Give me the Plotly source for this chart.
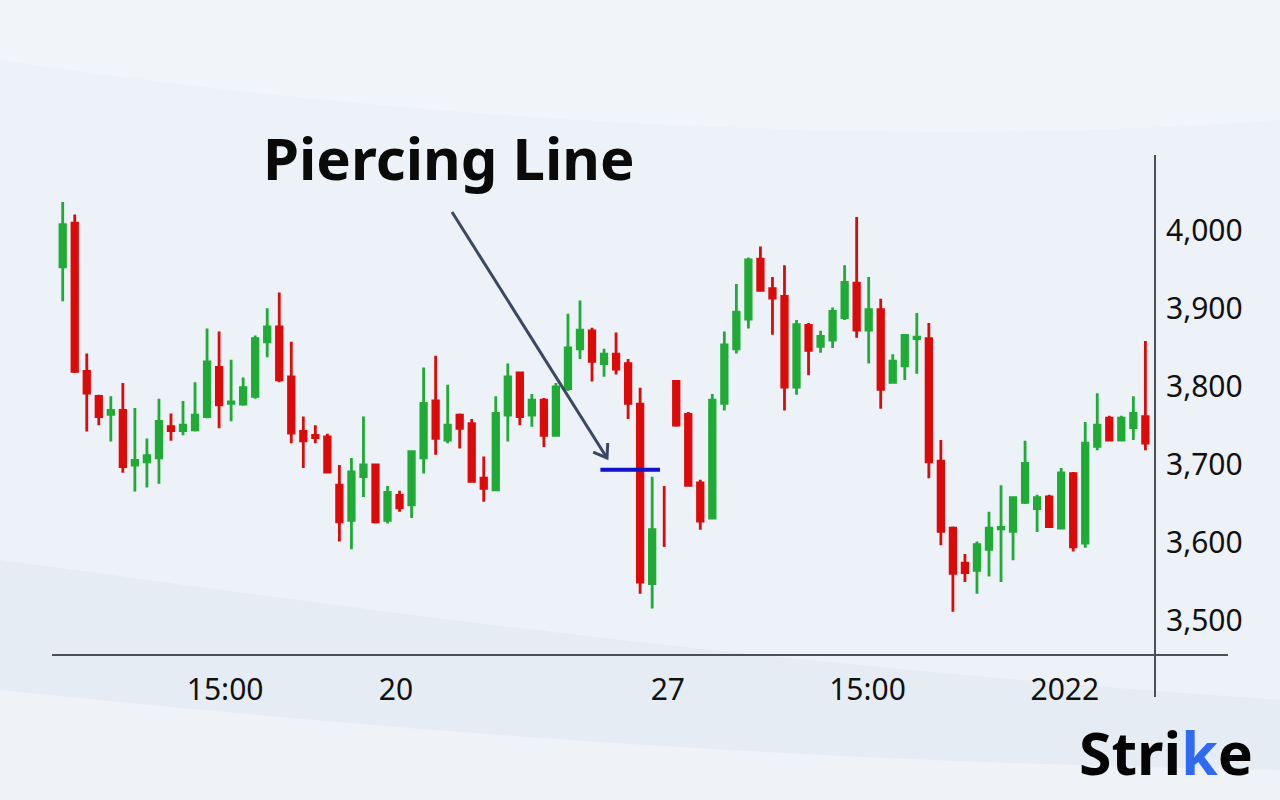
import math
import plotly.graph_objects as go

# ---------------- data ----------------
opens = [3954, 4010, 3820, 3788, 3765, 3770, 3700, 3704, 3709, 3749,
         3744, 3745, 3762, 3825, 3779, 3778, 3788, 3858, 3877, 3813,
         3743, 3738, 3736, 3674, 3629, 3685, 3700, 3629, 3661, 3649,
         3709, 3782, 3732, 3764, 3753, 3683, 3668, 3764, 3818, 3764,
         3783, 3738, 3798, 3849, 3872, 3830, 3842, 3830, 3778, 3548,
         None, 3807, 3765, 3677, 3632, 3779, 3849, 3887, 3964, 3926,
         3916, 3800, 3879, 3852, 3860, 3889, 3933, 3873, 3899, 3806,
         3827, 3862, 3862, 3705, 3619, 3574, 3565, 3592, 3618, 3615,
         3652, 3644, 3659, 3619, 3689, 3600, 3724, 3760, 3732, 3748,
         3762]
highs = [4037, 4021, 3843, 3790, 3788, 3805, 3773, 3734, 3785, 3766,
         3782, 3806, 3875, 3871, 3835, 3812, 3866, 3901, 3921, 3858,
         3762, 3751, 3740, 3700, 3709, 3762, 3702, 3673, 3667, 3719,
         3825, 3840, 3803, 3766, 3759, 3711, 3788, 3830, 3820, 3791,
         3786, 3805, 3894, 3911, 3876, 3849, 3870, 3836, 3799, 3685,
         3673, 3809, 3768, 3681, 3791, 3871, 3932, 3966, 3980, 3941,
         3956, 3886, 3882, 3872, 3902, 3956, 4018, 3941, 3913, 3842,
         3868, 3895, 3882, 3732, 3621, 3586, 3602, 3640, 3674, 3660,
         3731, 3662, 3662, 3696, 3691, 3755, 3792, 3763, 3763, 3788,
         3859]
lows = [3910, 3818, 3743, 3751, 3730, 3690, 3666, 3671, 3676, 3731,
        3738, 3743, 3760, 3747, 3756, 3776, 3785, 3838, 3806, 3728,
        3696, 3728, 3690, 3602, 3592, 3659, 3625, 3625, 3640, 3632,
        3689, 3713, 3728, 3721, 3678, 3653, 3667, 3730, 3751, 3749,
        3723, 3737, 3795, 3836, 3807, 3813, 3816, 3759, 3535, 3516,
        3595, 3749, 3673, 3617, 3631, 3770, 3843, 3875, 3923, 3867,
        3770, 3790, 3815, 3844, 3850, 3886, 3863, 3830, 3772, 3805,
        3809, 3817, 3683, 3597, 3512, 3550, 3535, 3557, 3550, 3578,
        3650, 3614, 3620, 3618, 3589, 3594, 3719, 3731, 3731, 3732,
        3719]
closes = [4008, 3820, 3792, 3762, 3770, 3698, 3706, 3712, 3756, 3744,
          3751, 3764, 3832, 3777, 3781, 3799, 3862, 3877, 3809, 3741,
          3731, 3735, 3691, 3627, 3691, 3700, 3627, 3665, 3645, 3717,
          3779, 3734, 3751, 3747, 3679, 3670, 3766, 3813, 3762, 3783,
          3738, 3800, 3850, 3873, 3833, 3842, 3823, 3779, 3550, 3617,
          None, 3751, 3674, 3628, 3783, 3854, 3896, 3963, 3924, 3914,
          3800, 3880, 3847, 3865, 3897, 3934, 3873, 3899, 3797, 3833,
          3866, 3864, 3704, 3615, 3561, 3562, 3598, 3619, 3620, 3658,
          3702, 3658, 3621, 3690, 3595, 3728, 3751, 3732, 3760, 3766,
          3728]
# candles drawn as a bare (red) wick only
wick_only = [50]

x_tick_pos = [13.5, 27.7, 50.3, 66.9, 83.3]
x_tick_text = ["15:00", "20", "27", "15:00", "2022"]
y_tick_vals = [3500, 3600, 3700, 3800, 3900, 4000]

# piercing-line marker level
pierce_level = 3694
pierce_x = [44.7, 49.65]

GREEN = "#1fab35"
RED = "#dd0a0a"

# ---------------- layout geometry ----------------
W, H = 1280, 800
ML, MR, MT, MB = 52, 125, 155, 145
PW, PH = W - ML - MR, H - MT - MB


def px(x):
    return (x - ML) / PW


def py(y):
    return (H - MB - y) / PH


idx = list(range(len(opens)))

fig = go.Figure()
fig.add_trace(go.Candlestick(
    x=idx, open=opens, high=highs, low=lows, close=closes,
    increasing=dict(line=dict(color=GREEN, width=2.8), fillcolor=GREEN),
    decreasing=dict(line=dict(color=RED, width=2.8), fillcolor=RED),
    whiskerwidth=0, showlegend=False, hoverinfo="skip",
))
for i in wick_only:
    fig.add_trace(go.Scatter(
        x=[i, i], y=[lows[i], highs[i]], mode="lines",
        line=dict(color=RED, width=2.8), showlegend=False, hoverinfo="skip",
    ))

shapes = []
# soft background swooshes
shapes.append(dict(type="path", xref="paper", yref="paper", layer="below",
                   path=f"M {px(0)} {py(560)} C {px(300)} {py(600)}, {px(700)} {py(660)}, {px(1280)} {py(700)} L {px(1280)} {py(800)} L {px(0)} {py(800)} Z",
                   fillcolor="rgba(205,215,228,0.22)", line=dict(width=0)))
shapes.append(dict(type="path", xref="paper", yref="paper", layer="below",
                   path=f"M {px(0)} {py(690)} C {px(300)} {py(720)}, {px(700)} {py(760)}, {px(1280)} {py(770)} L {px(1280)} {py(800)} L {px(0)} {py(800)} Z",
                   fillcolor="rgba(255,255,255,0.35)", line=dict(width=0)))
shapes.append(dict(type="path", xref="paper", yref="paper", layer="below",
                   path=f"M {px(0)} {py(0)} L {px(1280)} {py(0)} L {px(1280)} {py(120)} C {px(900)} {py(150)}, {px(400)} {py(120)}, {px(0)} {py(60)} Z",
                   fillcolor="rgba(255,255,255,0.25)", line=dict(width=0)))

# axis lines
shapes.append(dict(type="line", xref="paper", yref="paper",
                   x0=px(52), x1=px(1228), y0=py(655), y1=py(655),
                   line=dict(color="#4b5058", width=2)))
shapes.append(dict(type="line", xref="paper", yref="paper",
                   x0=px(1155), x1=px(1155), y0=py(155), y1=py(697),
                   line=dict(color="#4b5058", width=2)))

# piercing level line
shapes.append(dict(type="line", xref="x", yref="y",
                   x0=pierce_x[0], x1=pierce_x[1], y0=pierce_level, y1=pierce_level,
                   line=dict(color="#1212c8", width=4)))

# arrow (tail/tip in pixels)
tail = (452, 212)
tip = (607, 458)
dx, dy = tail[0] - tip[0], tail[1] - tip[1]
n = math.hypot(dx, dy)
ux, uy = dx / n, dy / n
arms = []
for ang in (math.radians(35), -math.radians(35)):
    c, s = math.cos(ang), math.sin(ang)
    rx, ry = ux * c - uy * s, ux * s + uy * c
    arms.append((tip[0] + 15 * rx, tip[1] + 15 * ry))
ARROW = "#3b4763"
shapes.append(dict(type="line", xref="paper", yref="paper",
                   x0=px(tail[0]), y0=py(tail[1]), x1=px(tip[0]), y1=py(tip[1]),
                   line=dict(color=ARROW, width=3)))
shapes.append(dict(type="path", xref="paper", yref="paper",
                   path=f"M {px(arms[0][0])} {py(arms[0][1])} L {px(tip[0])} {py(tip[1])} L {px(arms[1][0])} {py(arms[1][1])}",
                   line=dict(color=ARROW, width=3)))

annotations = [
    dict(text="<b>Piercing Line</b>", xref="paper", yref="paper",
         x=px(449), y=py(157), xanchor="center", yanchor="middle",
         showarrow=False, font=dict(family="Noto Sans", size=58, color="#0a0a0a")),
    dict(text="<b>Stri<span style='color:#2f6bf0'>k</span>e</b>", xref="paper", yref="paper",
         x=px(1166), y=py(752), xanchor="center", yanchor="middle",
         showarrow=False, font=dict(family="Noto Sans", size=59, color="#050505")),
]

fig.update_layout(
    width=W, height=H,
    margin=dict(l=ML, r=MR, t=MT, b=MB, pad=0),
    paper_bgcolor="#edf2f8",
    plot_bgcolor="rgba(0,0,0,0)",
    boxgap=0.35,
    shapes=shapes,
    annotations=annotations,
    xaxis=dict(range=[-0.89, 90.8], showgrid=False, zeroline=False, showline=False,
               rangeslider=dict(visible=False), tickmode="array",
               tickvals=x_tick_pos, ticktext=x_tick_text, ticks="",
               ticklabelstandoff=14,
               tickfont=dict(family="Noto Sans", size=30, color="#111111")),
    yaxis=dict(range=[3456.4, 4097.4], side="right", showgrid=False, zeroline=False,
               showline=False, tickmode="array", tickvals=y_tick_vals,
               tickformat=",d", ticks="", ticklabelstandoff=10,
               tickfont=dict(family="Noto Sans", size=30, color="#111111")),
    font=dict(family="Noto Sans"),
)

fig.write_html(
    "out.html",
    config={"displayModeBar": False, "staticPlot": True},
    post_script="document.body.style.margin='0';document.body.style.overflow='hidden';",
)
